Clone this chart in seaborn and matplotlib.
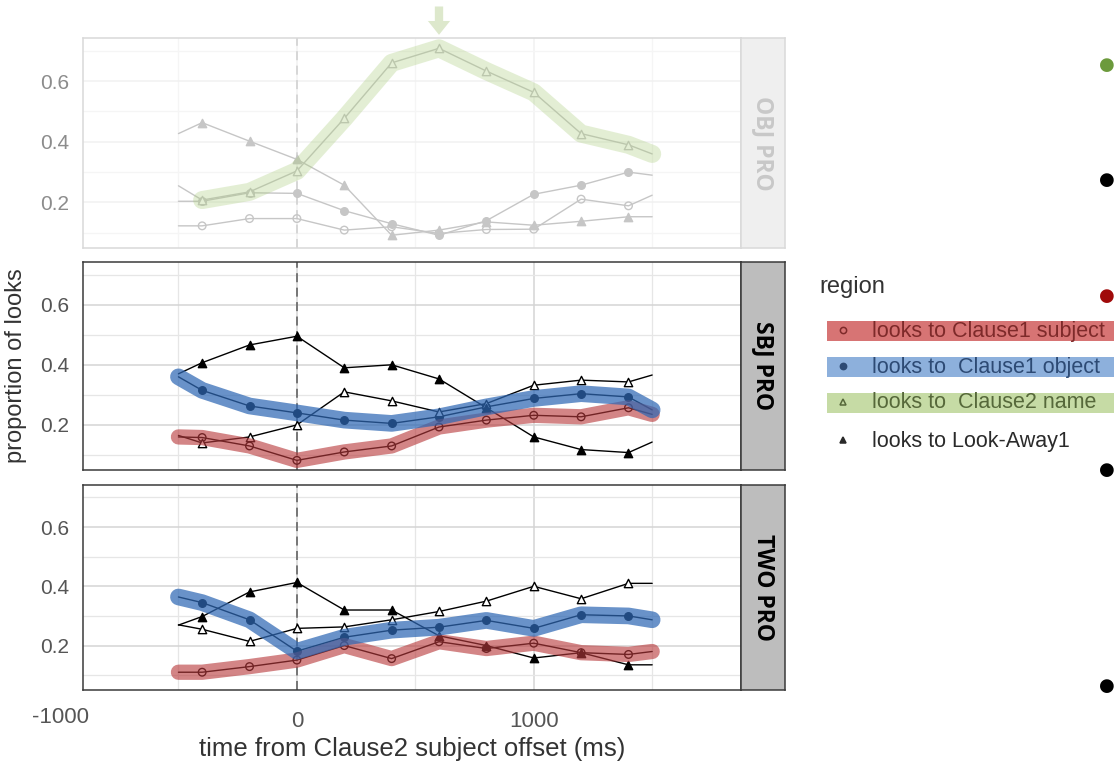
import matplotlib.pyplot as plt
import pandas as pd
import seaborn as sns
from matplotlib.patches import Rectangle

# time bins (ms); the first and last bins are drawn as line ends only
times = [-500, -400, -200, 0, 200, 400, 600, 800, 1000, 1200, 1400, 1500]

panels = ['OBJ PRO', 'SBJ PRO', 'TWO PRO']
regions = ['looks to Clause1 subject', 'looks to  Clause1 object',
           'looks to  Clause2 name', 'looks to Look-Away1']

# OBJ PRO
obj_subj = [0.123, 0.123, 0.147, 0.147, 0.109, 0.120, 0.098, 0.111, 0.112, 0.211, 0.189, 0.224]
obj_obj = [0.204, 0.204, 0.232, 0.230, 0.173, 0.130, 0.092, 0.140, 0.227, 0.257, 0.300, 0.290]
obj_name = [0.255, 0.208, 0.235, 0.304, 0.477, 0.660, 0.708, 0.633, 0.563, 0.427, 0.390, 0.360]
obj_away = [0.427, 0.463, 0.402, 0.342, 0.257, 0.092, 0.109, 0.136, 0.125, 0.138, 0.153, 0.153]

# SBJ PRO
sbj_subj = [0.160, 0.158, 0.130, 0.082, 0.110, 0.130, 0.193, 0.216, 0.232, 0.227, 0.257, 0.235]
sbj_obj = [0.360, 0.315, 0.263, 0.240, 0.216, 0.205, 0.227, 0.260, 0.288, 0.304, 0.293, 0.250]
sbj_name = [0.165, 0.140, 0.160, 0.200, 0.310, 0.280, 0.243, 0.271, 0.332, 0.349, 0.343, 0.366]
sbj_away = [0.370, 0.407, 0.466, 0.495, 0.390, 0.400, 0.353, 0.257, 0.160, 0.118, 0.108, 0.143]

# TWO PRO
two_subj = [0.110, 0.110, 0.129, 0.151, 0.200, 0.156, 0.213, 0.190, 0.208, 0.176, 0.170, 0.180]
two_obj = [0.364, 0.345, 0.287, 0.181, 0.228, 0.252, 0.262, 0.285, 0.258, 0.304, 0.300, 0.287]
two_name = [0.270, 0.255, 0.214, 0.258, 0.263, 0.287, 0.315, 0.350, 0.400, 0.358, 0.410, 0.410]
two_away = [0.269, 0.298, 0.381, 0.413, 0.320, 0.320, 0.233, 0.200, 0.158, 0.176, 0.135, 0.135]

values = {
    'OBJ PRO': [obj_subj, obj_obj, obj_name, obj_away],
    'SBJ PRO': [sbj_subj, sbj_obj, sbj_name, sbj_away],
    'TWO PRO': [two_subj, two_obj, two_name, two_away],
}

rows = []
for p in panels:
    for r, vals in zip(regions, values[p]):
        for t, v in zip(times, vals):
            rows.append({'panel': p, 'region': r, 'time': t, 'value': v})
df = pd.DataFrame(rows)

# marker, face colour
styles = {
    regions[0]: ('o', 'none'),
    regions[1]: ('o', 'fill'),
    regions[2]: ('^', 'white'),
    regions[3]: ('^', 'fill'),
}

# hand drawn highlight strokes: colour, alpha, width, first bin covered
highlights = {
    ('OBJ PRO', regions[2]): ('#a9cc7a', 0.32, 13, 1),
    ('SBJ PRO', regions[0]): ('#b83a3c', 0.62, 11, 0),
    ('SBJ PRO', regions[1]): ('#2f68b4', 0.72, 12, 0),
    ('TWO PRO', regions[0]): ('#b83a3c', 0.62, 11, 0),
    ('TWO PRO', regions[1]): ('#2f68b4', 0.72, 12, 0),
}

sns.set_theme(style='whitegrid')
narrow = ['Liberation Sans Narrow', 'Liberation Sans', 'DejaVu Sans']
plt.rcParams['font.family'] = ['Liberation Sans', 'DejaVu Sans']

W, H = 1114, 761
fig = plt.figure(figsize=(W / 100, H / 100), dpi=100)


def px_axes(x0, y0, x1, y1):
    return fig.add_axes([x0 / W, 1 - y1 / H, (x1 - x0) / W, (y1 - y0) / H])


boxes = {'OBJ PRO': (38, 248), 'SBJ PRO': (262, 470), 'TWO PRO': (485, 690)}

for p in panels:
    y0, y1 = boxes[p]
    faded = p == 'OBJ PRO'
    ax = px_axes(83, y0, 741, y1)
    ink = '#c6c6c6' if faded else 'black'
    frame = '#d9d9d9' if faded else '#3a3a3a'

    sub = df[df.panel == p]
    for r in regions:
        d = sub[sub.region == r]
        key = (p, r)
        sns.lineplot(data=d, x='time', y='value', color=ink, lw=1.0,
                     estimator=None, ax=ax, legend=False, zorder=3)
        inner = d[(d.time > times[0]) & (d.time < times[-1])]
        marker, face = styles[r]
        sns.scatterplot(data=inner, x='time', y='value', marker=marker,
                        s=36 if marker == '^' else 30,
                        facecolor=ink if face == 'fill' else face,
                        edgecolor=ink, linewidth=1.0, ax=ax, legend=False,
                        zorder=4)
        if key in highlights:
            col, a, lw, first = highlights[key]
            sns.lineplot(data=d[d.time >= times[first]], x='time', y='value',
                         color=col, alpha=a, lw=lw, estimator=None, ax=ax,
                         legend=False, solid_capstyle='round',
                         solid_joinstyle='round', zorder=5)

    ax.axvline(0, color='#d4d4d4' if faded else '#6e6e6e', lw=1.3,
               ls=(0, (5, 3)), zorder=2)
    ax.set_xlim(-903, 1875)
    ax.set_ylim(0.05, 0.742)
    ax.set_xticks([0, 1000])
    ax.set_xticks([-500, 500, 1500], minor=True)
    ax.set_yticks([0.2, 0.4, 0.6])
    ax.set_yticks([0.1, 0.3, 0.5, 0.7], minor=True)
    ax.set_yticklabels(['0.2', '0.4', '0.6'], family=narrow, fontsize=15,
                       color='#8c8c8c' if faded else '#555555')
    ax.grid(which='major', color='#f1f1f1' if faded else '#d4d4d4', lw=1.1)
    ax.grid(which='minor', color='#f5f5f5' if faded else '#e6e6e6', lw=0.9)
    ax.tick_params(which='both', length=0, pad=10)
    ax.set_xlabel('')
    ax.set_ylabel('')
    for s in ax.spines.values():
        s.set_color(frame)
        s.set_linewidth(1.1)
    if p == 'TWO PRO':
        ax.set_xticklabels(['0', '1000'], family=narrow, fontsize=16,
                           color='#555555')
        ax.tick_params(axis='x', pad=15)
        ax.text(-1000, -0.085, '-1000', transform=ax.get_xaxis_transform(),
                ha='center', va='top', family=narrow, fontsize=16,
                color='#555555', clip_on=False)
        ax.set_xlabel('time from Clause2 subject offset (ms)', family=narrow,
                      fontsize=18.5, color='#333333', labelpad=4)
    else:
        ax.set_xticklabels([])
    if p == 'SBJ PRO':
        ax.set_ylabel('proportion of looks', fontsize=17, color='#333333',
                      labelpad=9)
    if faded:
        peak = df[(df.panel == p) & (df.region == regions[2])]
        t_peak = peak.loc[peak.value.idxmax(), 'time']
        ax.annotate('', xy=(t_peak, 1.015), xytext=(t_peak, 1.15),
                    xycoords=('data', 'axes fraction'),
                    arrowprops=dict(width=6, headwidth=16, headlength=10,
                                    color='#dde8cc', lw=0))

    # facet strip
    st = px_axes(741, y0, 785, y1)
    st.set_facecolor('#efefef' if faded else '#bdbdbd')
    st.set_xticks([])
    st.set_yticks([])
    st.grid(False)
    for s in st.spines.values():
        s.set_color(frame)
        s.set_linewidth(1.1)
    st.text(0.5, 0.5, p, rotation=270, ha='center', va='center',
            fontsize=16.5, fontweight='bold',
            color='#c8c8c8' if faded else 'black',
            family=['Open Sans', 'DejaVu Sans'], transform=st.transAxes)

# legend with highlight bands
lg = px_axes(800, 262, 1114, 470)
lg.set_xlim(800, 1114)
lg.set_ylim(470, 262)
lg.axis('off')
lg.text(819, 287, 'region', fontsize=17, color='#333333', va='center')
bands = ['#d77474', '#8db0dc', '#c6dba5', None]
text_cols = ['#7e2a2a', '#2d4a74', '#56683a', '#2a2a2a']
ycen = [331, 367, 403, 441]
for r, band, tc, yc in zip(regions, bands, text_cols, ycen):
    if band:
        lg.add_patch(Rectangle((827, yc - 10), 290, 20, color=band, lw=0))
    marker, face = styles[r]
    lg.plot([843], [yc - 1], marker=marker, ms=5 if marker == '^' else 4.5,
            mfc=tc if face == 'fill' else 'none', mec=tc, mew=1.1, ls='none')
    lg.text(872, yc, r, fontsize=15.5, color=tc, va='center', ha='left')

# bullet points cut off at the right edge of the slide
bullet_y = [65, 180, 296, 470, 686]
bullet_c = ['#6c9a3c', 'black', '#a00a0a', 'black', 'black']
for yb, cb in zip(bullet_y, bullet_c):
    fig.text(1107 / W, 1 - yb / H, '\u25cf', color=cb, fontsize=13,
             ha='center', va='center', family='DejaVu Sans')

fig.savefig('out.png', dpi=100)
